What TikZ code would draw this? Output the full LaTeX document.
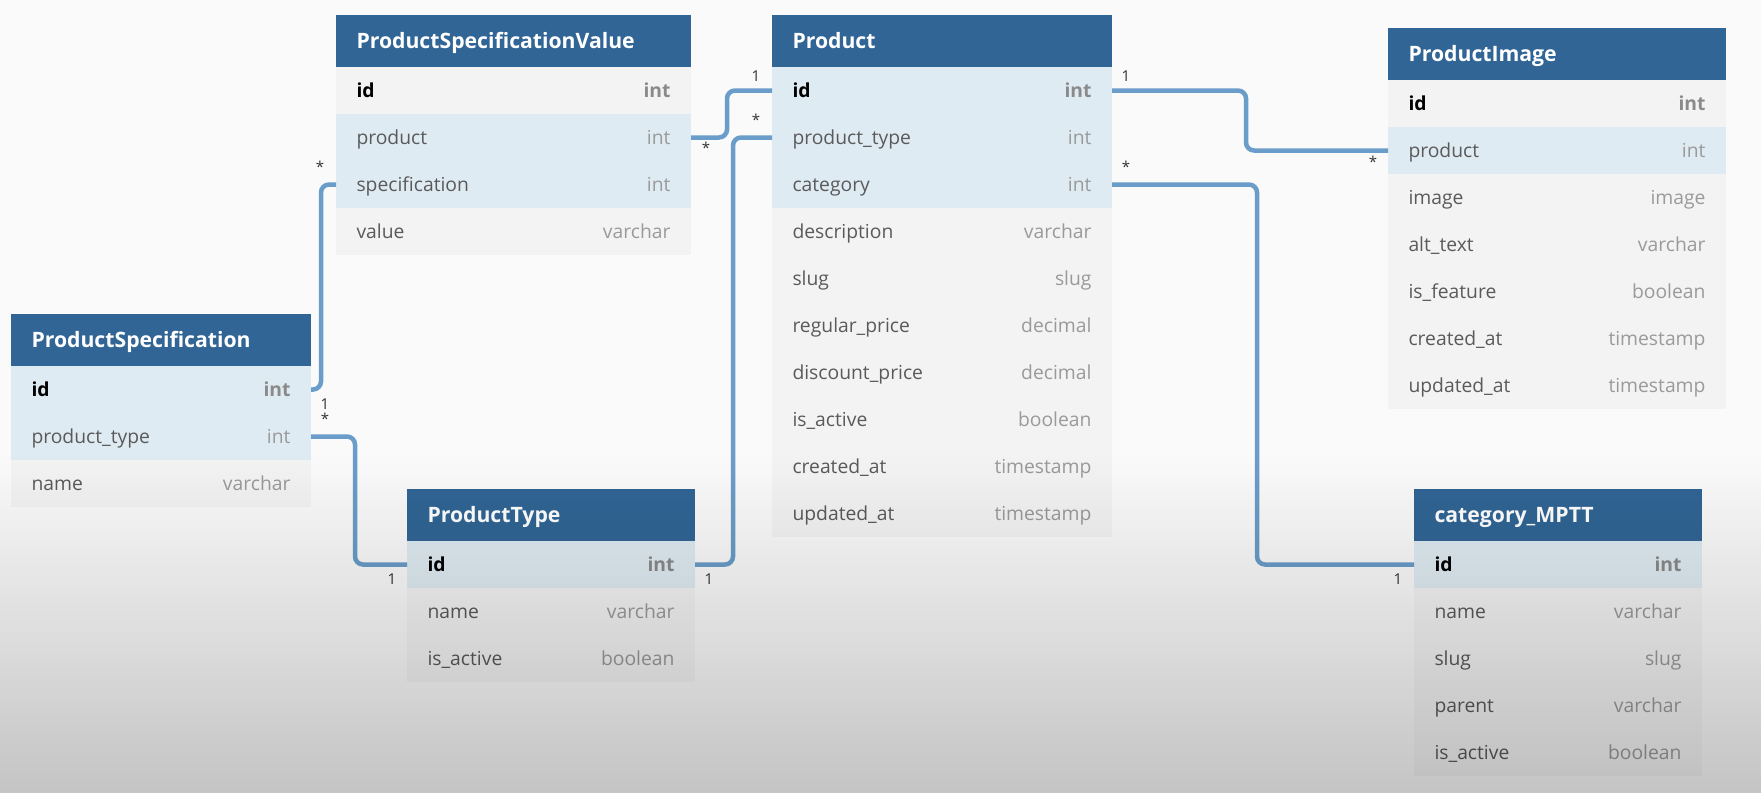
\documentclass[tikz,border=0pt]{standalone}
\usepackage{fontspec}
\setmainfont{Open Sans}
\usetikzlibrary{positioning}

\definecolor{bg}{HTML}{FAFAFA}
\definecolor{hdrblue}{HTML}{316595}
\definecolor{keyrow}{HTML}{DFEBF3}
\definecolor{plainrow}{HTML}{F3F3F3}
\definecolor{fname}{HTML}{5A5A5A}
\definecolor{ftype}{HTML}{9A9A9A}
\definecolor{pktype}{HTML}{8A8A8A}
\definecolor{linkblue}{HTML}{6A9DC9}
\definecolor{cardc}{HTML}{333333}

\newcommand{\field}[2]{\textcolor{fname}{#1}\hfill\textcolor{ftype}{#2}}
\newcommand{\pkey}[2]{\textbf{#1\hfill\textcolor{pktype}{#2}}}

\begin{document}
\begin{tikzpicture}[x=1pt, y=-1pt,
    hdr/.style={fill=hdrblue, text=white, font=\fontsize{21.2}{24}\selectfont\bfseries, text width=#1,
        inner xsep=20.5pt, inner ysep=0pt, minimum height=52pt, text height=17pt, text depth=2pt, align=left, outer sep=0pt},
    fk/.style={fill=keyrow, font=\fontsize{19.3}{22}\selectfont, text width=#1,
        inner xsep=20.5pt, inner ysep=0pt, minimum height=47pt, text height=16pt, text depth=1.5pt, align=left, outer sep=0pt},
    col/.style={fk=#1, fill=plainrow},
    link/.style={draw=linkblue, line width=4.5pt, rounded corners=8pt},
    card/.style={font=\fontsize{15}{18}\selectfont, text=cardc, inner sep=0pt}]

    \useasboundingbox (0,0) rectangle (1761,793);
    \fill[bg] (0,0) rectangle (1761,793);

    % ProductSpecificationValue
    \node[hdr=314pt, anchor=north west] (psv) at (336,15) {ProductSpecificationValue};
    \node[col=314pt, below=0pt of psv] (psv-id) {\pkey{id}{int}};
    \node[fk=314pt, below=0pt of psv-id] (psv-product) {\field{product}{int}};
    \node[fk=314pt, below=0pt of psv-product] (psv-spec) {\field{specification}{int}};
    \node[col=314pt, below=0pt of psv-spec] (psv-value) {\field{value}{varchar}};

    % Product
    \node[hdr=299pt, anchor=north west] (p) at (772,15) {Product};
    \node[fk=299pt, below=0pt of p] (p-id) {\pkey{id}{int}};
    \node[fk=299pt, below=0pt of p-id] (p-ptype) {\field{product\_type}{int}};
    \node[fk=299pt, below=0pt of p-ptype] (p-cat) {\field{category}{int}};
    \node[col=299pt, below=0pt of p-cat] (p-desc) {\field{description}{varchar}};
    \node[col=299pt, below=0pt of p-desc] (p-slug) {\field{slug}{slug}};
    \node[col=299pt, below=0pt of p-slug] (p-rprice) {\field{regular\_price}{decimal}};
    \node[col=299pt, below=0pt of p-rprice] (p-dprice) {\field{discount\_price}{decimal}};
    \node[col=299pt, below=0pt of p-dprice] (p-active) {\field{is\_active}{boolean}};
    \node[col=299pt, below=0pt of p-active] (p-created) {\field{created\_at}{timestamp}};
    \node[col=299pt, below=0pt of p-created] (p-updated) {\field{updated\_at}{timestamp}};

    % ProductImage
    \node[hdr=297pt, anchor=north west] (pi) at (1388,28) {ProductImage};
    \node[col=297pt, below=0pt of pi] (pi-id) {\pkey{id}{int}};
    \node[fk=297pt, below=0pt of pi-id] (pi-product) {\field{product}{int}};
    \node[col=297pt, below=0pt of pi-product] (pi-image) {\field{image}{image}};
    \node[col=297pt, below=0pt of pi-image] (pi-alt) {\field{alt\_text}{varchar}};
    \node[col=297pt, below=0pt of pi-alt] (pi-feature) {\field{is\_feature}{boolean}};
    \node[col=297pt, below=0pt of pi-feature] (pi-created) {\field{created\_at}{timestamp}};
    \node[col=297pt, below=0pt of pi-created] (pi-updated) {\field{updated\_at}{timestamp}};

    % ProductSpecification
    \node[hdr=259pt, anchor=north west] (ps) at (11,314) {ProductSpecification};
    \node[fk=259pt, below=0pt of ps] (ps-id) {\pkey{id}{int}};
    \node[fk=259pt, below=0pt of ps-id] (ps-ptype) {\field{product\_type}{int}};
    \node[col=259pt, below=0pt of ps-ptype] (ps-name) {\field{name}{varchar}};

    % ProductType
    \node[hdr=247pt, anchor=north west] (pt) at (407,489) {ProductType};
    \node[fk=247pt, below=0pt of pt] (pt-id) {\pkey{id}{int}};
    \node[col=247pt, below=0pt of pt-id] (pt-name) {\field{name}{varchar}};
    \node[col=247pt, below=0pt of pt-name] (pt-active) {\field{is\_active}{boolean}};

    % category_MPTT
    \node[hdr=247pt, anchor=north west] (cat) at (1414,489) {category\_MPTT};
    \node[fk=247pt, below=0pt of cat] (cat-id) {\pkey{id}{int}};
    \node[col=247pt, below=0pt of cat-id] (cat-name) {\field{name}{varchar}};
    \node[col=247pt, below=0pt of cat-name] (cat-slug) {\field{slug}{slug}};
    \node[col=247pt, below=0pt of cat-slug] (cat-parent) {\field{parent}{varchar}};
    \node[col=247pt, below=0pt of cat-parent] (cat-active) {\field{is\_active}{boolean}};

    % relations
    \draw[link] (ps-id.east) -- ++(10,0) |- (psv-spec.west);
    \draw[link] (psv-product.east) -- ++(36,0) |- (p-id.west);
    \draw[link] (ps-ptype.east) -- ++(44,0) |- (pt-id.west);
    \draw[link] (pt-id.east) -- ++(38,0) |- (p-ptype.west);
    \draw[link] (p-id.east) -- ++(134,0) |- (pi-product.west);
    \draw[link] (p-cat.east) -- ++(145,0) |- (cat-id.west);

    % cardinalities
    \node[card] (c-pid) at ([xshift=-16pt, yshift=14.5pt]p-id.west) {1};
    \node[card] (c-pptype) at ([xshift=-16pt, yshift=17.5pt]p-ptype.west) {*};
    \node[card] (c-psvproduct) at ([xshift=15pt, yshift=-10.5pt]psv-product.east) {*};
    \node[card] (c-psvspec) at ([xshift=-16pt, yshift=17.5pt]psv-spec.west) {*};
    \node[card] (c-psid) at ([xshift=14pt, yshift=-14.5pt]ps-id.east) {1};
    \node[card] (c-psptype) at ([xshift=14pt, yshift=17.5pt]ps-ptype.east) {*};
    \node[card] (c-ptidl) at ([xshift=-15pt, yshift=-14.5pt]pt-id.west) {1};
    \node[card] (c-ptidr) at ([xshift=14pt, yshift=-14.5pt]pt-id.east) {1};
    \node[card] (c-pidr) at ([xshift=14pt, yshift=14.5pt]p-id.east) {1};
    \node[card] (c-pcat) at ([xshift=14pt, yshift=17.5pt]p-cat.east) {*};
    \node[card] (c-piproduct) at ([xshift=-15pt, yshift=-11.5pt]pi-product.west) {*};
    \node[card] (c-catid) at ([xshift=-16pt, yshift=-14.5pt]cat-id.west) {1};

    % shade towards the bottom
    \foreach \k in {0,...,48}
        \fill[black, opacity=0.0044*\k] (0,450+7*\k) rectangle (1761,457+7*\k);
\end{tikzpicture}
\end{document}
